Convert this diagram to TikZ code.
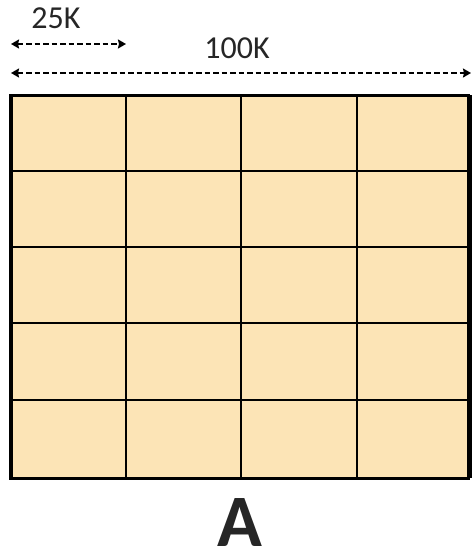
\documentclass[tikz,border=0pt]{standalone}
\usepackage{fontspec}
\setmainfont{Carlito}
\usetikzlibrary{arrows.meta}
\definecolor{cellfill}{HTML}{FCE4B6}
\definecolor{txt}{HTML}{262626}
\tikzset{
  dimarrow/.style={dashed, dash pattern=on 5.5pt off 3pt, line width=2.2pt, {Stealth[length=8pt,width=9pt,inset=1pt]}-{Stealth[length=8pt,width=9pt,inset=1pt]}},
  gridline/.style={line width=2pt, black},
  lbl/.style={font=\fontsize{32}{34}\selectfont, text=txt, inner sep=0pt, anchor=base}
}
\begin{document}
\begin{tikzpicture}[x=1pt,y=-1pt]
\useasboundingbox (0,0) rectangle (472,555);
% grid
\fill[cellfill] (10,95) rectangle (468,478);
\foreach \x in {126,241,357} \draw[gridline] (\x,95) -- (\x,478);
\foreach \y in {171,247,323,400} \draw[gridline] (10,\y) -- (468,\y);
\draw[line width=3pt] (10,95) rectangle (468,478);
\draw[line width=4.5pt] (11,95) -- (11,478);
\draw[line width=1.5pt] (471,95) -- (471,478);
% dimension arrows
\coordinate (a1) at (11,44);
\coordinate (a2) at (126,44);
\coordinate (b1) at (11,73);
\coordinate (b2) at (471,73);
\draw[dimarrow] (a1) -- (a2);
\draw[dimarrow] (b1) -- (b2);
\node[lbl] (l25) at (56,28) {25K};
\node[lbl] (l100) at (237,58) {100K};
\node[font=\fontsize{74}{74}\selectfont\bfseries, text=txt, inner sep=0pt, anchor=base] (A) at (240,546) {A};
\end{tikzpicture}
\end{document}
